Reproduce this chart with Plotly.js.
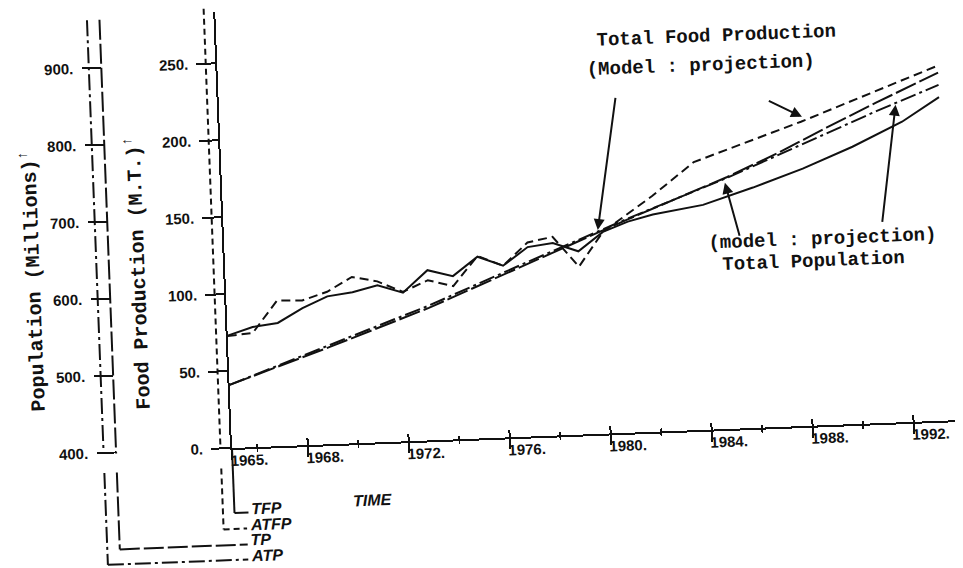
<!DOCTYPE html>
<html><head><meta charset="utf-8">
<script src="https://cdn.plot.ly/plotly-3.0.1.min.js"></script>
<style>
html,body{margin:0;padding:0;background:#fff;overflow:hidden;width:963px;height:568px;}
#wrap{width:963px;height:568px;transform:rotate(-2.2deg);transform-origin:232px 448px;background:#fff;}
</style></head>
<body><div id="wrap"><div id="chart" style="width:963px;height:568px;"></div></div>
<script>
// ---- data ----
const foodYears = [1965,1966,1967,1968,1969,1970,1971,1972,1973,1974,1975,1976,1977,1978,1979,1980,1981,1982,1984,1986,1988,1990,1992,1993.5];
const tfpModel  = [73,78,80,89,96,98,102,96.5,110.5,106,118,111.5,123,125,119,131,137,141,146,156,167,180,195,210];
const atfpYears = [1965,1966,1967,1968,1969,1970,1971,1972,1973,1974,1975,1976,1977,1978,1979,1980,1982,1983.7,1988,1993.5];
const atfpActual= [72.7,74.2,94.5,94,99,108,104.5,97,104,99.5,118.5,111.5,126,129,109,131,153,174,197.5,230.5];
const popYears  = [1965,1969,1973,1977,1981,1985,1987,1989,1991,1993.5];
const tpModel   = [482,526,572,624,677,727,755,786,816,852];
const atpActual = [482,528,575,627,678,726,752,779,805,836];
const foodTicks = [0,50,100,150,200,250];
const foodTickText = ['0.','50.','100.','150.','200.','250.'];
const popTicks = [400,500,600,700,800,900];
const popTickText = ['400.','500.','600.','700.','800.','900.'];
const yearTicks = [1965,1968,1972,1976,1980,1984,1988,1992];
const yearTickText = ['1965.','1968.','1972.','1976.','1980.','1984.','1988.','1992.'];
const yearMinor = [1966,1970,1974,1978,1982,1986,1990];

// ---- layout helpers (pixel -> paper) ----
const L=100, R=7, T=12, B=120, W=963, H=568;
const PW=W-L-R, PH=H-T-B, Y0=H-B;
const px = v => (v-L)/PW;
const py = v => (Y0-v)/PH;
const xDom0 = px(232);
const ink = '#111';
const tickFont = {family:'"Liberation Sans", Arial, sans-serif', size:15, color:ink, weight:'bold'};
const monoFont = {family:'"Liberation Mono", "Courier New", monospace', size:19, color:ink, weight:'bold'};
const legFont = {family:'"Liberation Sans", Arial, sans-serif', size:16, color:ink, weight:'bold', style:'italic'};

const traces = [
  {x:foodYears, y:tfpModel, name:'TFP', mode:'lines', line:{color:ink, width:2}},
  {x:atfpYears, y:atfpActual, name:'ATFP', mode:'lines', line:{color:ink, width:2, dash:'9px,5px'}},
  {x:popYears, y:tpModel, name:'TP', yaxis:'y2', mode:'lines', line:{color:ink, width:2, dash:'22px,4px'}},
  {x:popYears, y:atpActual, name:'ATP', yaxis:'y2', mode:'lines', line:{color:ink, width:2, dash:'16px,4px,3px,4px'}},
  {x:[], y:[], xaxis:'x2', yaxis:'y', mode:'lines', showlegend:false, hoverinfo:'skip'}
];

function vline(x,y1,y2,dash,w){return {type:'line',xref:'paper',yref:'paper',x0:px(x),x1:px(x),y0:py(y1),y1:py(y2),line:{color:ink,width:w||2,dash:dash||'solid'}};}
function hline(x1,x2,y,dash,w){return {type:'line',xref:'paper',yref:'paper',x0:px(x1),x1:px(x2),y0:py(y),y1:py(y),line:{color:ink,width:w||2,dash:dash||'solid'}};}

const shapes = [
  // ATFP dashed axis companion
  vline(220.5,8,446,'6px,4px'), vline(220.5,468,529,'6px,4px'), hline(220.5,244,529,'6px,4px'),
  // TFP solid connector
  vline(232,448,513,'solid'), hline(232,246,513,'solid'),
  // TP long dash
  vline(116,15,449,'20px,4px'), vline(116,468,545,'20px,4px'), hline(116,244,545,'20px,4px'),
  // ATP dash-dot
  vline(103.5,15,449,'16px,4px,3px,4px'), vline(103.5,468,560,'16px,4px,3px,4px'), hline(103.5,244,560,'16px,4px,3px,4px')
];

function txt(t,x,y,font,extra){return Object.assign({text:t,xref:'paper',yref:'paper',x:px(x),y:py(y),showarrow:false,font:font,xanchor:'center',yanchor:'middle'},extra||{});}
function arrow(x,y,ax,ay){return {text:'',xref:'x',yref:'y',x:x,y:y,ax:ax,ay:ay,showarrow:true,arrowhead:2,arrowsize:1.1,arrowwidth:2,arrowcolor:ink};}

const annotations = [
  txt('Population (Millions)<sup>↑</sup>',39,274,{family:monoFont.family,size:20,color:ink,weight:'bold'},{textangle:-90}),
  txt('Food Production (M.T.)<sup>↑</sup>',144,270,{family:monoFont.family,size:20,color:ink,weight:'bold'},{textangle:-90}),
  txt('Total Food Production',731,55,monoFont),
  txt('(Model : projection)',715,84,monoFont),
  txt('(model : projection)',830,262,monoFont),
  txt('Total Population',820,284,monoFont),
  txt('TIME',371,505,legFont),
  txt('TFP',247,509,legFont,{xanchor:'left'}),
  txt('ATFP',245,525,legFont,{xanchor:'left'}),
  txt('TP',245,540,legFont,{xanchor:'left'}),
  txt('ATP',245,556,legFont,{xanchor:'left'}),
  arrow(1979.8,132.3,23,-133),
  arrow(1988.05,200.7,-34,-18),
  arrow(1984.9,159.8,13,55),
  arrow(1991.77,206.2,-18,118)
];

const layout = {
  width:W, height:H, margin:{l:L,r:R,t:T,b:B,pad:0},
  paper_bgcolor:'#fff', plot_bgcolor:'rgba(0,0,0,0)', showlegend:false,
  xaxis:{domain:[xDom0,1], range:[1965,1993.66], tickmode:'array', tickvals:yearTicks, ticktext:yearTickText,
    ticks:'outside', ticklen:10, tickwidth:2, tickcolor:ink, showline:true, linewidth:2, linecolor:ink,
    showgrid:false, zeroline:false, tickfont:tickFont, ticklabelshift:17, ticklabelstandoff:-12,
    minor:{tickvals:yearMinor, ticks:'outside', ticklen:3, tickwidth:1.5, tickcolor:ink, showgrid:false}},
  xaxis2:{overlaying:'x', anchor:'y', domain:[xDom0,1], range:[1965,1993.66], tickmode:'array', tickvals:yearTicks,
    ticks:'inside', ticklen:7, tickwidth:2, tickcolor:ink, showticklabels:false, showline:false, showgrid:false, zeroline:false,
    minor:{tickvals:yearMinor, ticks:'inside', ticklen:3, tickwidth:1.5, tickcolor:ink, showgrid:false}},
  yaxis:{domain:[0,1], range:[0,283.1], anchor:'x', tickmode:'array', tickvals:foodTicks, ticktext:foodTickText,
    ticks:'outside', ticklen:19, tickwidth:2, tickcolor:ink, showline:true, linewidth:2, linecolor:ink,
    showgrid:false, zeroline:false, tickfont:tickFont, ticklabelstandoff:5},
  yaxis2:{overlaying:'y', anchor:'free', position:px(116), side:'left', range:[400,966.2], tickmode:'array',
    tickvals:popTicks, ticktext:popTickText, ticks:'outside', ticklen:19, tickwidth:2, tickcolor:ink,
    showline:false, showgrid:false, zeroline:false, tickfont:tickFont, ticklabelstandoff:6},
  shapes:shapes, annotations:annotations
};
Plotly.newPlot('chart', traces, layout, {staticPlot:true, displayModeBar:false});
</script></body></html>
